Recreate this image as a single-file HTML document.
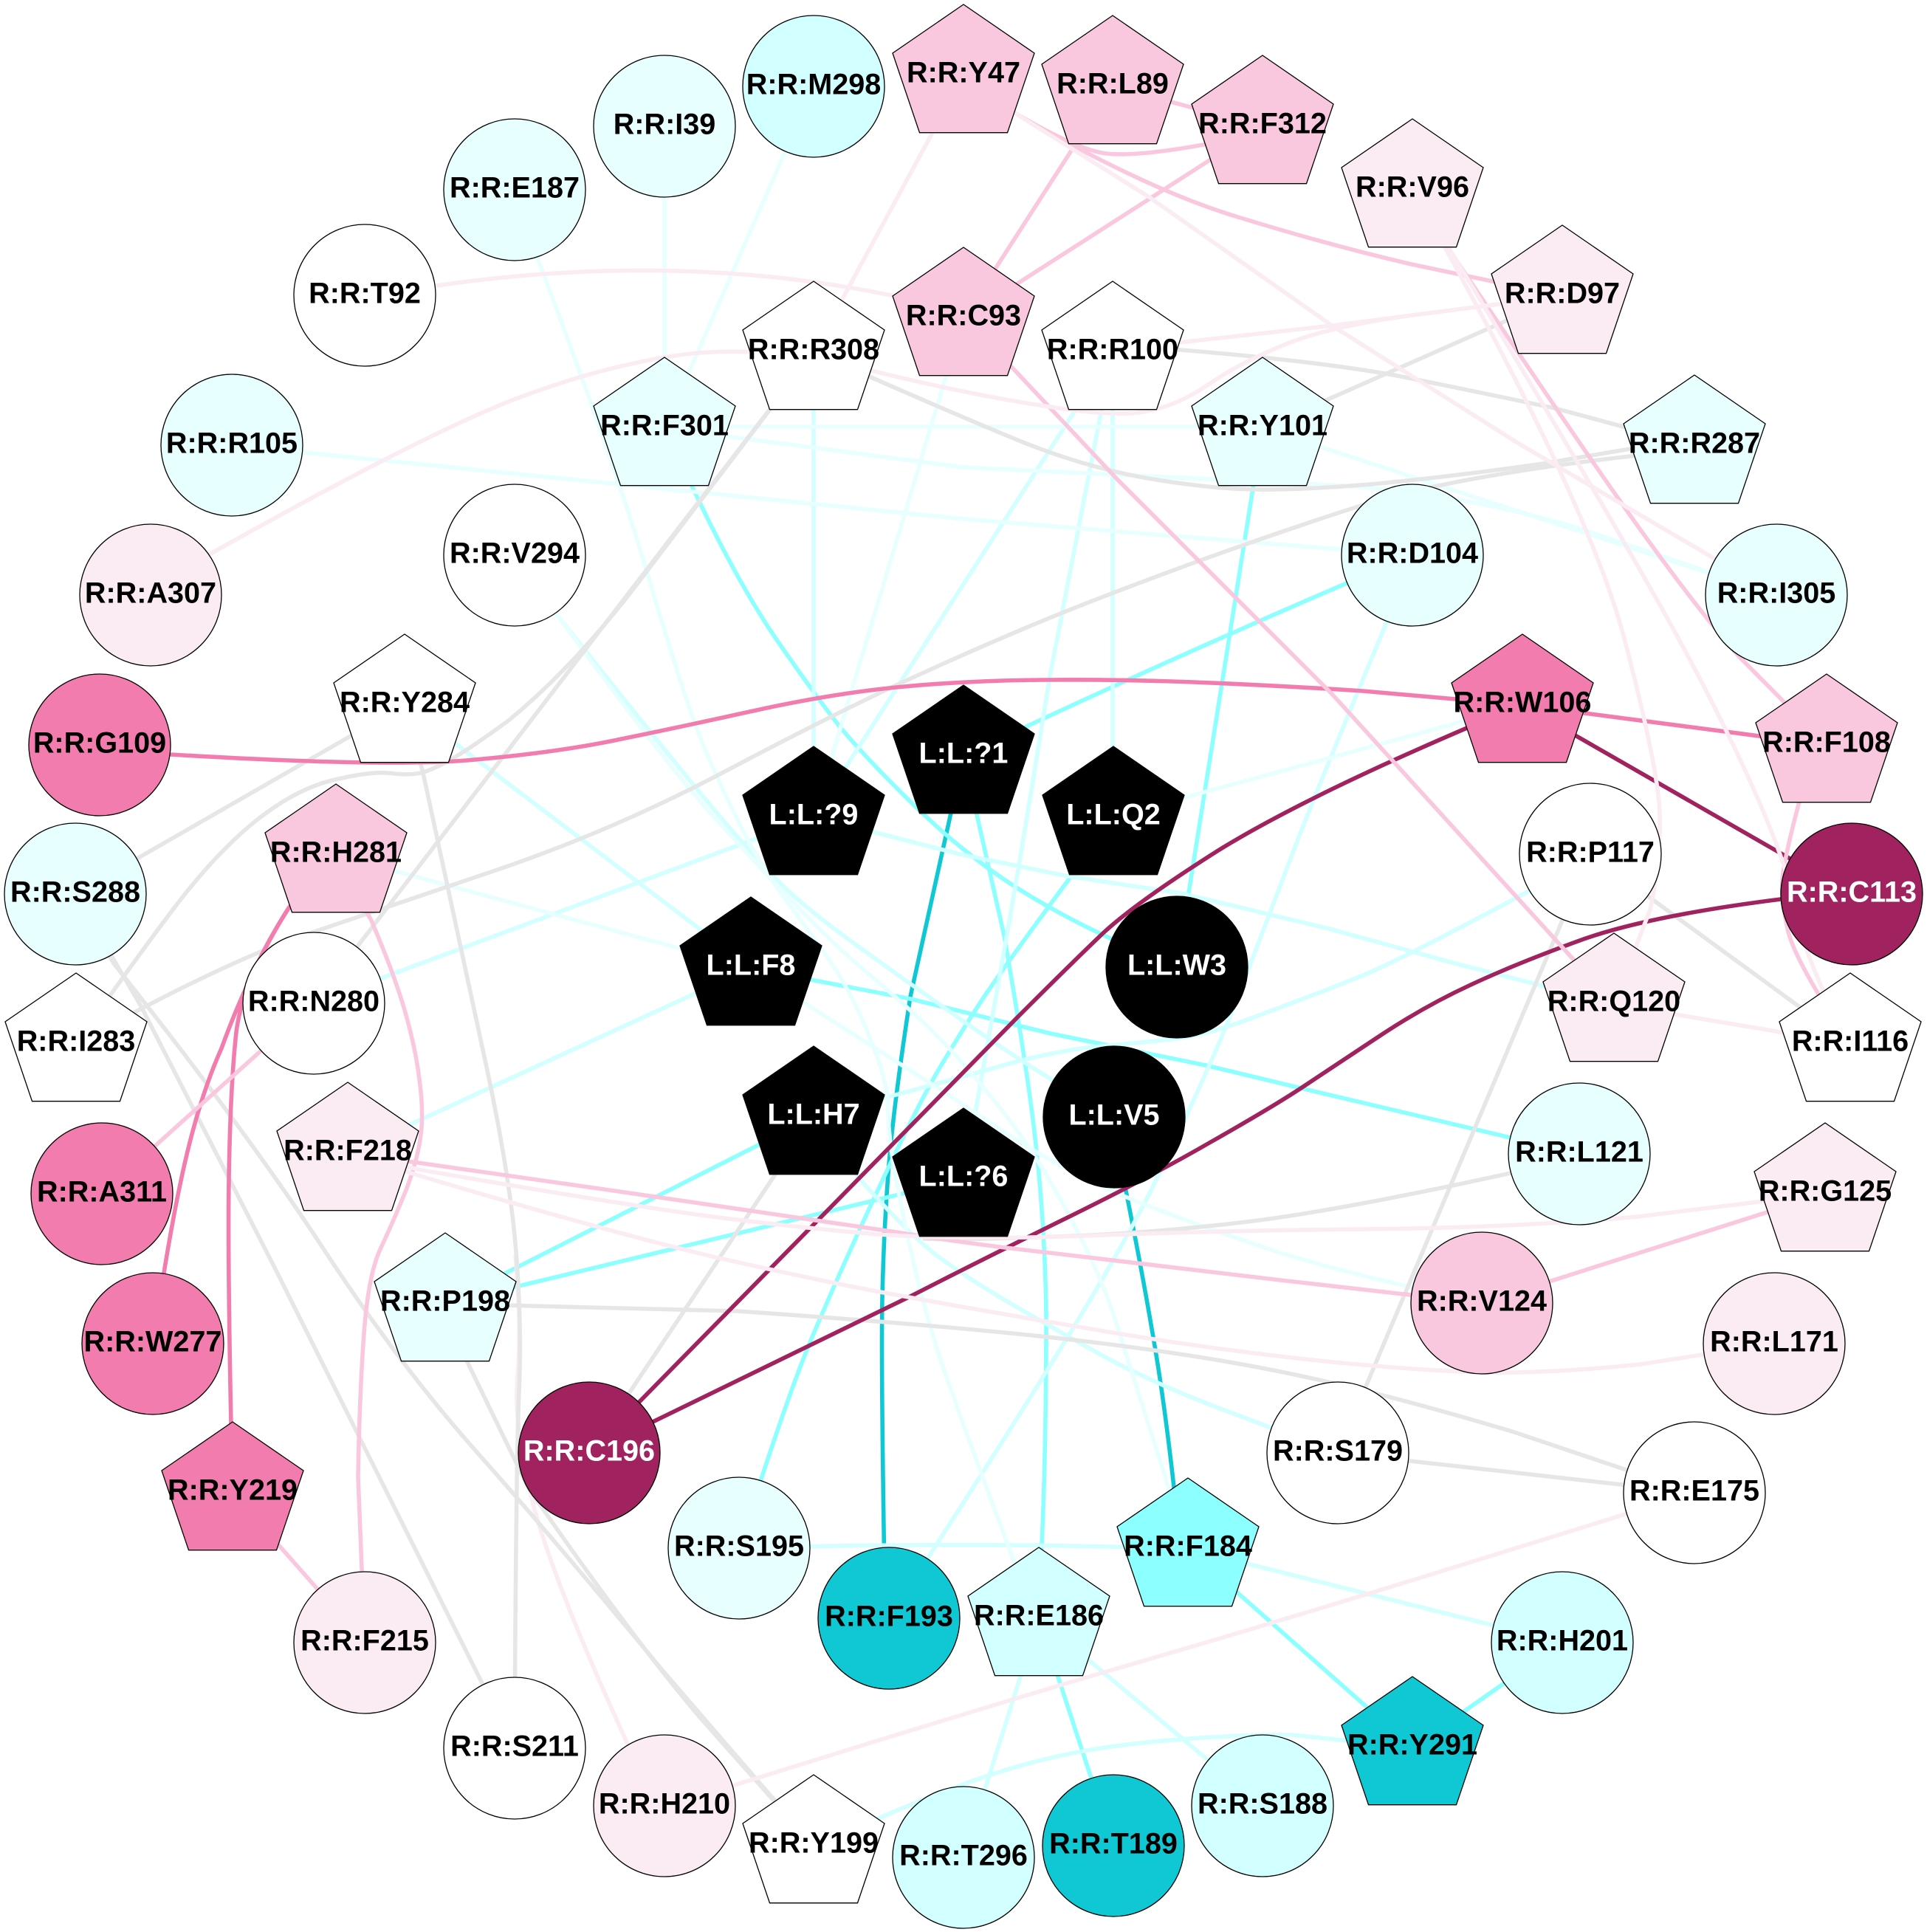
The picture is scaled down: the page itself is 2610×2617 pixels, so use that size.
<!DOCTYPE html>
<html lang="en">
<head>
<meta charset="utf-8">
<title>Residue interaction network</title>
<style>
html,body{margin:0;padding:0;background:#fff;width:2610px;height:2617px;overflow:hidden}
svg{display:block}
text{font-family:"Liberation Sans",Arial,sans-serif;font-weight:bold;font-size:39.6px;text-anchor:middle;fill:#000}
text.w{fill:#fff}
.n circle,.n use{stroke:#000;stroke-width:1.3}
g.e path{fill:none;stroke-width:5.6;stroke-linejoin:round}
</style>
</head>
<body>
<svg xmlns="http://www.w3.org/2000/svg" width="2610" height="2617" viewBox="0 0 2610 2617">
<defs><polygon id="p" points="0,-96 96,-30 59.5,77.7 -59.5,77.7 -96,-30"/></defs>
<rect width="2610" height="2617" fill="#fff"/>

<!-- dark cyan edges -->
<g class="e" stroke="#10c8d4">
<path d="M1305 1024L1233 1350Q1210 1500 1203.5 1583Q1197 1667 1195 1758Q1193 1850 1199 2192"/>
<path d="M1509 1513L1525 1613Q1547 1723 1560 1800Q1578 1900 1594 2051L1609 2098"/>
</g>

<!-- medium cyan edges -->
<g class="e" stroke="#8cffff">
<path d="M1305 1024L1360 1267Q1383 1400 1395 1486Q1407 1573 1412 1653Q1417 1733 1417 1791Q1417 1960 1411 2093L1407 2192"/>
<path d="M900 580L937 658Q1000 792 1055 871Q1110 950 1138 985Q1167 1020 1222 1075Q1277 1130 1325 1166Q1373 1203 1436 1237Q1500 1272 1594 1310"/>
<path d="M1710 580Q1650 950 1594 1310"/>
<path d="M1305 1024Q1610 880 1913 752"/>
<path d="M1017 1311L1098 1327L1233 1353L1423 1400L1633 1443L1800 1483L2139 1563"/>
<path d="M1102 1513L603 1766"/>
<path d="M1305 1597L603 1766"/>
<path d="M1508 1107L1447 1192Q1367 1300 1333 1350Q1300 1400 1266 1458Q1233 1517 1183 1625Q1133 1733 1098 1816Q1063 1900 1001 2097"/>
<path d="M1609 2098L1913 2367"/>
<path d="M2116 2225L1913 2367"/>
<path d="M1407 2192L1508 2500"/>
</g>

<!-- pale cyan edges -->
<g class="e" stroke="#d2ffff">
<path d="M1507 477L1507 1107"/>
<path d="M1507 477L1422 916Q1380 1177 1360 1288L1305 1597"/>
<path d="M1507 477L1102 1107"/>
<path d="M1102 477L1102 1107"/>
<path d="M1913 752L1879 841Q1793 1047 1756 1142Q1720 1237 1689 1318Q1658 1400 1632 1456Q1607 1513 1570 1590Q1533 1667 1463 1783Q1393 1900 1204 2192"/>
<path d="M697 752L760 840Q900 1017 970 1100Q1040 1183 1078 1216Q1117 1250 1175 1291Q1233 1333 1316 1391Q1400 1450 1509 1513"/>
<path d="M548 955L1017 1311"/>
<path d="M425 1359L1102 1107"/>
<path d="M471 1562L1017 1311"/>
<path d="M1102 1107L1183 1127L1300 1157L1447 1187L1600 1210L1800 1258L1971 1305L2186 1360"/>
<path d="M2154 1157L2071 1207Q1888 1305 1844 1322Q1800 1340 1730 1366Q1660 1393 1630 1400Q1600 1407 1566 1410Q1533 1413 1483 1418Q1433 1423 1366 1441Q1300 1460 1102 1513"/>
<path d="M1102 1513L1167 1600Q1227 1667 1263 1696Q1300 1725 1366 1764Q1433 1803 1500 1840Q1567 1875 1642 1904L1812 1968"/>
<path d="M1407 2192L1710 2446"/>
<path d="M1407 2192L1305 2516"/>
<path d="M1102 2500L1190 2463Q1305 2413 1388 2390Q1471 2367 1575 2358Q1680 2349 1750 2350L1913 2367"/>
<path d="M1001 2097Q1300 2088 1609 2098"/>
<path d="M1609 2098L2116 2225"/>
</g>

<!-- very pale cyan edges -->
<g class="e" stroke="#e8ffff">
<path d="M1305 431L1102 1107"/>
<path d="M314 603L1305 703L1913 752"/>
<path d="M900 578L1710 578"/>
<path d="M900 580L1305 633L1805 657Q1971 666 2140 716L2406 806"/>
<path d="M1710 580L2406 806"/>
<path d="M697 257L728 350Q832 624 880 787Q928 950 952 1008Q977 1067 1002 1117Q1027 1167 1063 1217Q1100 1267 1125 1303Q1150 1340 1170 1386Q1190 1433 1197 1460Q1203 1483 1203 1508Q1203 1533 1211 1583Q1220 1633 1235 1700Q1250 1767 1271 1833Q1293 1900 1373 2114L1407 2192"/>
<path d="M697 752L760 840Q900 1033 971 1111Q1043 1190 1088 1236Q1133 1283 1183 1325Q1233 1367 1266 1400Q1300 1433 1350 1495Q1400 1557 1443 1637Q1487 1717 1509 1783Q1531 1850 1609 2098"/>
<path d="M1017 1311L1087 1357Q1233 1450 1283 1482Q1333 1515 1366 1537Q1400 1560 1458 1590Q1517 1620 1575 1641Q1633 1663 1716 1691Q1800 1720 2007 1765"/>
<path d="M455 1158L1017 1311"/>
<path d="M1508 1107L1605 1080L1800 1027L2062 955"/>
<path d="M1102 117L900 580"/>
<path d="M900 171L900 580"/>
</g>

<!-- very pale pink, lowest one -->
<g class="e" stroke="#fbebf3">
<path d="M900 2446L849 2360Q749 2141 722 2037Q695 1932 701 1864Q707 1796 698 1700"/>
</g>

<!-- grey edges -->
<g class="e" stroke="#e6e6e6">
<path d="M548 955L102 1211"/>
<path d="M548 955L573 1047L660 1450Q691 1596 699 1696Q707 1796 703 1885Q699 1975 697 2368"/>
<path d="M1102 477L860 795Q775 905 690 975Q633 1017 605 1032Q577 1047 563 1048Q550 1050 525 1047Q500 1045 450 1057Q400 1069 345 1113Q291 1157 235 1231Q179 1305 103 1414"/>
<path d="M1102 477L425 1359"/>
<path d="M2295 610L2208 618Q1971 645 1846 684Q1721 724 1596 770Q1471 816 1388 851Q1305 886 1214 928Q1124 970 978 1047Q832 1124 674 1178Q516 1232 408 1268Q300 1305 103 1414"/>
<path d="M1102 477L1182 512Q1305 566 1388 600Q1471 633 1555 648Q1638 662 1700 663Q1763 664 1867 655Q1971 645 2090 628L2208 608L2295 598"/>
<path d="M1507 473L1600 474Q1804 491 1908 512Q2012 533 2106 553L2295 604"/>
<path d="M1710 580L2116 401"/>
<path d="M2154 1157L2506 1414"/>
<path d="M2154 1157L1812 1968"/>
<path d="M1812 1968L2295 2022"/>
<path d="M603 1766L999 1776Q1305 1797 1471 1817Q1638 1837 1763 1864Q1888 1891 2048 1939L2295 2022"/>
<path d="M2139 1563L2046 1589Q1804 1642 1680 1656Q1555 1671 1430 1675Q1305 1680 1250 1678"/>
<path d="M1102 1513L798 1968"/>
<path d="M102 1211L154 1305Q333 1531 437 1690Q541 1849 645 1966Q749 2083 896 2261L1102 2500"/>
<path d="M102 1211L191 1363L375 1723L697 2368"/>
<path d="M603 1766L633 1845L716 2016Q849 2209 946 2324L1102 2500"/>
</g>

<!-- crimson edges -->
<g class="e" stroke="#a0235f">
<path d="M2062 955L2508 1211"/>
<path d="M2062 955L1987 986Q1763 1082 1650 1152Q1538 1223 1494 1264Q1451 1305 1378 1378L798 1968"/>
<path d="M2508 1211L2412 1218Q2237 1240 2145 1272Q2054 1305 1992 1334Q1929 1363 1866 1405Q1804 1446 1762 1474Q1721 1501 1638 1548Q1555 1596 1430 1657Q1305 1719 1235 1755L798 1968"/>
</g>

<!-- hot pink edges -->
<g class="e" stroke="#f27cad">
<path d="M135 1009L231 1022Q516 1039 632 1030Q749 1020 832 1003Q916 986 1020 963Q1124 940 1214 931Q1305 922 1409 921Q1513 920 1617 924Q1721 928 1846 936L2062 955"/>
<path d="M2062 955L2474 1009"/>
<path d="M455 1158L391 1230Q340 1310 300 1420Q266 1496 243 1609Q228 1680 207 1820"/>
<path d="M455 1158L391 1230Q329 1326 320 1398Q312 1471 310 1596Q308 1721 315 2022"/>
</g>

<!-- light pink edges -->
<g class="e" stroke="#f9c8df">
<path d="M455 1158L503 1247Q533 1317 548 1368Q563 1420 568 1462Q574 1505 570 1537Q566 1570 550 1612Q533 1654 516 1690Q499 1725 493 1806Q487 1888 485 2000L494 2225"/>
<path d="M315 2022L494 2225"/>
<path d="M425 1359L138 1617"/>
<path d="M1507 117L1710 171"/>
<path d="M1305 102L1376 154Q1455 200 1492 207Q1530 214 1630 196L1710 170"/>
<path d="M1305 102L1376 154Q1555 258 1680 295Q1804 333 1912 358L2116 401"/>
<path d="M1507 117L1305 431"/>
<path d="M1710 171L1305 431"/>
<path d="M1305 431L1372 499L1513 649L1804 940L2186 1360"/>
<path d="M1913 257L1962 337Q2137 599 2220 715Q2304 832 2358 892L2474 1009"/>
<path d="M2474 1009L2437 1086Q2416 1165 2414 1192Q2412 1220 2422 1262Q2433 1305 2506 1414"/>
<path d="M2007 1765L2472 1617"/>
<path d="M471 1562L566 1575L832 1613Q1124 1655 1214 1669Q1305 1684 1430 1698Q1555 1713 1734 1734L2007 1765"/>
</g>

<!-- very pale pink edges -->
<g class="e" stroke="#fbebf3">
<path d="M494 395L591 387Q915 340 1207 400L1305 431"/>
<path d="M204 806L287 749Q583 583 707 537Q832 491 936 479Q1040 468 1172 500Q1305 533 1409 549Q1513 566 1554 557Q1596 549 1638 520Q1680 491 1742 466Q1804 441 1920 426L2116 401"/>
<path d="M1507 477L1596 464L1804 441L2116 401"/>
<path d="M1305 102L1102 477"/>
<path d="M1305 102L1376 154L1555 266L1804 441L2054 599L2406 806"/>
<path d="M2186 1360L2506 1414"/>
<path d="M1913 257L1958 337Q2154 691 2200 865Q2246 1040 2248 1102Q2250 1165 2235 1232L2186 1360"/>
<path d="M1913 257L1963 337Q2137 624 2220 770Q2304 915 2362 1040Q2420 1165 2433 1235Q2446 1305 2506 1414"/>
<path d="M900 2446L995 2418Q1305 2321 1513 2260Q1721 2200 1963 2125L2295 2022"/>
<path d="M471 1562L566 1584Q832 1630 957 1647Q1082 1663 1190 1672Q1305 1680 1470 1674Q1638 1667 1846 1665Q2054 1663 2218 1648L2472 1617"/>
<path d="M471 1562L566 1592Q832 1671 978 1705Q1124 1738 1214 1754Q1305 1771 1471 1799Q1638 1828 1805 1845Q1971 1861 2054 1859Q2137 1857 2222 1848L2403 1820"/>
</g>

<!-- circle nodes -->
<g class="n">
<circle cx="1102" cy="117" r="96" fill="#d2ffff"/>
<circle cx="900" cy="171" r="96" fill="#e8ffff"/>
<circle cx="697" cy="257" r="96" fill="#e8ffff"/>
<circle cx="494" cy="400" r="96" fill="#fff"/>
<circle cx="314" cy="603" r="96" fill="#e8ffff"/>
<circle cx="204" cy="806" r="96" fill="#fbebf3"/>
<circle cx="135" cy="1009" r="96" fill="#f27cad"/>
<circle cx="102" cy="1211" r="96" fill="#e8ffff"/>
<circle cx="697" cy="752" r="96" fill="#fff"/>
<circle cx="425" cy="1359" r="96" fill="#fff"/>
<circle cx="138" cy="1617" r="96" fill="#f27cad"/>
<circle cx="207" cy="1820" r="96" fill="#f27cad"/>
<circle cx="798" cy="1968" r="96" fill="#a0235f"/>
<circle cx="1001" cy="2097" r="96" fill="#e8ffff"/>
<circle cx="1204" cy="2192" r="96" fill="#10c8d4"/>
<circle cx="494" cy="2225" r="96" fill="#fbebf3"/>
<circle cx="697" cy="2368" r="96" fill="#fff"/>
<circle cx="900" cy="2446" r="96" fill="#fbebf3"/>
<circle cx="1305" cy="2516" r="96" fill="#d2ffff"/>
<circle cx="1508" cy="2500" r="96" fill="#10c8d4"/>
<circle cx="1710" cy="2446" r="96" fill="#d2ffff"/>
<circle cx="2116" cy="2225" r="96" fill="#d2ffff"/>
<circle cx="2295" cy="2022" r="96" fill="#fff"/>
<circle cx="1812" cy="1968" r="96" fill="#fff"/>
<circle cx="2403" cy="1820" r="96" fill="#fbebf3"/>
<circle cx="2007" cy="1765" r="96" fill="#f9c8df"/>
<circle cx="2139" cy="1563" r="96" fill="#e8ffff"/>
<circle cx="2508" cy="1211" r="96" fill="#a0235f"/>
<circle cx="2154" cy="1157" r="96" fill="#fff"/>
<circle cx="2406" cy="806" r="96" fill="#e8ffff"/>
<circle cx="1913" cy="752" r="96" fill="#e8ffff"/>
<circle cx="1594" cy="1310" r="96" fill="#000"/>
<circle cx="1509" cy="1513" r="96" fill="#000"/>
</g>

<!-- pentagon nodes -->
<g class="n">
<use href="#p" x="1305" y="102" fill="#f9c8df"/>
<use href="#p" x="1507" y="117" fill="#f9c8df"/>
<use href="#p" x="1710" y="171" fill="#f9c8df"/>
<use href="#p" x="1913" y="257" fill="#fbebf3"/>
<use href="#p" x="2116" y="401" fill="#fbebf3"/>
<use href="#p" x="2295" y="604" fill="#e8ffff"/>
<use href="#p" x="2474" y="1009" fill="#f9c8df"/>
<use href="#p" x="2062" y="955" fill="#f27cad"/>
<use href="#p" x="2506" y="1414" fill="#fff"/>
<use href="#p" x="2186" y="1360" fill="#fbebf3"/>
<use href="#p" x="2472" y="1617" fill="#fbebf3"/>
<use href="#p" x="1609" y="2098" fill="#8cffff"/>
<use href="#p" x="1913" y="2367" fill="#10c8d4"/>
<use href="#p" x="1407" y="2192" fill="#d2ffff"/>
<use href="#p" x="1102" y="2500" fill="#fff"/>
<use href="#p" x="603" y="1766" fill="#e8ffff"/>
<use href="#p" x="315" y="2022" fill="#f27cad"/>
<use href="#p" x="471" y="1562" fill="#fbebf3"/>
<use href="#p" x="103" y="1414" fill="#fff"/>
<use href="#p" x="455" y="1158" fill="#f9c8df"/>
<use href="#p" x="548" y="955" fill="#fff"/>
<use href="#p" x="900" y="580" fill="#e8ffff"/>
<use href="#p" x="1102" y="477" fill="#fff"/>
<use href="#p" x="1305" y="431" fill="#f9c8df"/>
<use href="#p" x="1507" y="477" fill="#fff"/>
<use href="#p" x="1710" y="580" fill="#e8ffff"/>
<use href="#p" x="1102" y="1107" fill="#000"/>
<use href="#p" x="1305" y="1024" fill="#000"/>
<use href="#p" x="1508" y="1107" fill="#000"/>
<use href="#p" x="1017" y="1311" fill="#000"/>
<use href="#p" x="1102" y="1513" fill="#000"/>
<use href="#p" x="1305" y="1597" fill="#000"/>
</g>

<!-- labels -->
<g>
<text x="1102" y="127.5">R:R:M298</text>
<text x="900" y="181.5">R:R:I39</text>
<text x="697" y="267.5">R:R:E187</text>
<text x="494" y="410.5">R:R:T92</text>
<text x="314" y="613.5">R:R:R105</text>
<text x="204" y="816.5">R:R:A307</text>
<text x="135" y="1019.5">R:R:G109</text>
<text x="102" y="1221.5">R:R:S288</text>
<text x="697" y="762.5">R:R:V294</text>
<text x="425" y="1369.5">R:R:N280</text>
<text x="138" y="1627.5">R:R:A311</text>
<text x="207" y="1830.5">R:R:W277</text>
<text class="w" x="798" y="1978.5">R:R:C196</text>
<text x="1001" y="2107.5">R:R:S195</text>
<text x="1204" y="2202.5">R:R:F193</text>
<text x="494" y="2235.5">R:R:F215</text>
<text x="697" y="2378.5">R:R:S211</text>
<text x="900" y="2456.5">R:R:H210</text>
<text x="1305" y="2526.5">R:R:T296</text>
<text x="1508" y="2510.5">R:R:T189</text>
<text x="1710" y="2456.5">R:R:S188</text>
<text x="2116" y="2235.5">R:R:H201</text>
<text x="2295" y="2032.5">R:R:E175</text>
<text x="1812" y="1978.5">R:R:S179</text>
<text x="2403" y="1830.5">R:R:L171</text>
<text x="2007" y="1775.5">R:R:V124</text>
<text x="2139" y="1573.5">R:R:L121</text>
<text class="w" x="2508" y="1221.5">R:R:C113</text>
<text x="2154" y="1167.5">R:R:P117</text>
<text x="2406" y="816.5">R:R:I305</text>
<text x="1913" y="762.5">R:R:D104</text>
<text class="w" x="1594" y="1320.5">L:L:W3</text>
<text class="w" x="1509" y="1523.5">L:L:V5</text>
<text x="1305" y="111.5">R:R:Y47</text>
<text x="1507" y="126.5">R:R:L89</text>
<text x="1710" y="180.5">R:R:F312</text>
<text x="1913" y="266.5">R:R:V96</text>
<text x="2116" y="410.5">R:R:D97</text>
<text x="2295" y="613.5">R:R:R287</text>
<text x="2474" y="1018.5">R:R:F108</text>
<text x="2062" y="964.5">R:R:W106</text>
<text x="2506" y="1423.5">R:R:I116</text>
<text x="2186" y="1369.5">R:R:Q120</text>
<text x="2472" y="1626.5">R:R:G125</text>
<text x="1609" y="2107.5">R:R:F184</text>
<text x="1913" y="2376.5">R:R:Y291</text>
<text x="1407" y="2201.5">R:R:E186</text>
<text x="1102" y="2509.5">R:R:Y199</text>
<text x="603" y="1775.5">R:R:P198</text>
<text x="315" y="2031.5">R:R:Y219</text>
<text x="471" y="1571.5">R:R:F218</text>
<text x="103" y="1423.5">R:R:I283</text>
<text x="455" y="1167.5">R:R:H281</text>
<text x="548" y="964.5">R:R:Y284</text>
<text x="900" y="589.5">R:R:F301</text>
<text x="1102" y="486.5">R:R:R308</text>
<text x="1305" y="440.5">R:R:C93</text>
<text x="1507" y="486.5">R:R:R100</text>
<text x="1710" y="589.5">R:R:Y101</text>
<text class="w" x="1102" y="1116.5">L:L:?9</text>
<text class="w" x="1305" y="1033.5">L:L:?1</text>
<text class="w" x="1508" y="1116.5">L:L:Q2</text>
<text class="w" x="1017" y="1320.5">L:L:F8</text>
<text class="w" x="1102" y="1522.5">L:L:H7</text>
<text class="w" x="1305" y="1606.5">L:L:?6</text>
</g>
</svg>
</body>
</html>
